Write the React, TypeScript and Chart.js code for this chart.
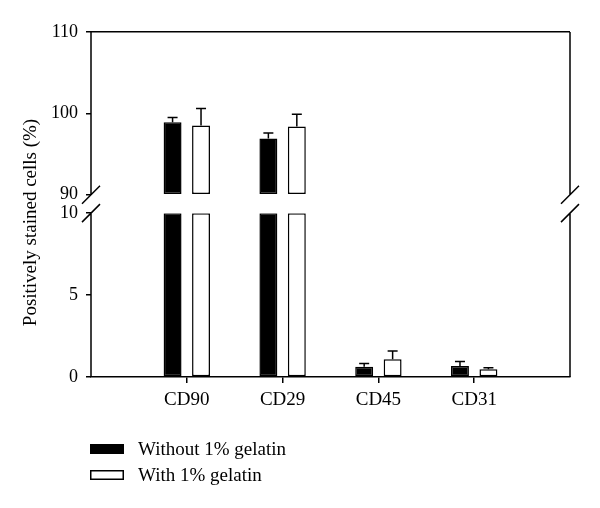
import React, { useEffect, useRef } from 'react';
import { Chart, registerables } from 'chart.js';

Chart.register(...registerables);

// ---- data ----
const categories = ['', 'CD90', 'CD29', 'CD45', 'CD31', ''];
const seriesLabels = ['Without 1% gelatin', 'With 1% gelatin'];
const withoutGelatin: (number | null)[] = [null, 98.9, 96.9, 0.63, 0.67, null];
const withoutGelatinErr: (number | null)[] = [null, 0.6, 0.7, 0.2, 0.27, null];
const withGelatin: (number | null)[] = [null, 98.5, 98.4, 1.08, 0.47, null];
const withGelatinErr: (number | null)[] = [null, 2.1, 1.5, 0.5, 0.1, null];
const upperTicks = [90, 100, 110];
const lowerTicks = [0, 5, 10];
const yTitle = 'Positively stained cells (%)';

const FONT = "'Liberation Serif', 'Times New Roman', serif";

const upperMin = upperTicks[0];
const upperMax = upperTicks[upperTicks.length - 1];
const lowerMin = lowerTicks[0];
const lowerMax = lowerTicks[lowerTicks.length - 1];

const toUpper = (arr: (number | null)[]) => arr.map((v) => (v == null || v < upperMin ? null : v));
const toLower = (arr: (number | null)[]) => arr.map((v) => (v == null ? null : Math.min(v, lowerMax)));

const fills = ['#000000', '#ffffff'];

const brokenAxisPlugin = {
  id: 'brokenAxis',
  afterDraw(chart: any) {
    const { ctx, chartArea } = chart;
    const hi = chart.scales.yHigh;
    const lo = chart.scales.yLow;
    ctx.save();
    ctx.strokeStyle = '#000';
    ctx.lineWidth = 1.5;
    const xs = [chartArea.left, chartArea.right];
    const hiTop = hi.getPixelForValue(upperMax);
    const hiBot = hi.getPixelForValue(upperMin);
    const loTop = lo.getPixelForValue(lowerMax);
    const loBot = lo.getPixelForValue(lowerMin);
    ctx.beginPath();
    for (const x of xs) {
      ctx.moveTo(x, hiTop);
      ctx.lineTo(x, hiBot);
      ctx.moveTo(x, loTop);
      ctx.lineTo(x, loBot);
      for (const y of [hiBot, loTop]) {
        ctx.moveTo(x - 9, y + 9);
        ctx.lineTo(x + 9, y - 9);
      }
    }
    ctx.stroke();

    // y title
    ctx.fillStyle = '#000';
    ctx.font = `19px ${FONT}`;
    ctx.textAlign = 'center';
    ctx.textBaseline = 'middle';
    ctx.translate(chartArea.left - 60, (hiTop + loBot) / 2 + 18);
    ctx.rotate(-Math.PI / 2);
    ctx.fillText(yTitle, 0, 0);
    ctx.restore();

    // legend
    ctx.save();
    ctx.font = `19px ${FONT}`;
    ctx.textAlign = 'left';
    ctx.textBaseline = 'alphabetic';
    ctx.lineWidth = 1.5;
    seriesLabels.forEach((label, i) => {
      const boxX = chartArea.left - 1;
      const boxY = loBot + 67 + i * 26;
      ctx.fillStyle = fills[i];
      ctx.fillRect(boxX, boxY, 34, 10);
      ctx.strokeStyle = '#000';
      ctx.strokeRect(boxX + 0.75, boxY + 0.75, 32.5, 8.5);
      ctx.fillStyle = '#000';
      ctx.fillText(label, boxX + 48, boxY + 11);
    });
    ctx.restore();
  },
};

const errorBarPlugin = {
  id: 'errorBars',
  afterDatasetsDraw(chart: any) {
    const { ctx } = chart;
    ctx.save();
    ctx.strokeStyle = '#000';
    ctx.lineWidth = 1.5;
    chart.data.datasets.forEach((ds: any, di: number) => {
      const meta = chart.getDatasetMeta(di);
      const yScale = chart.scales[ds.yAxisID];
      ds.raw.forEach((raw: number | null, i: number) => {
        const err = ds.errors[i];
        if (raw == null || err == null) return;
        if (raw < yScale.min || raw > yScale.max) return;
        const bar = meta.data[i];
        if (!bar) return;
        const x = bar.x;
        const y0 = yScale.getPixelForValue(raw);
        const y1 = yScale.getPixelForValue(raw + err);
        ctx.beginPath();
        ctx.moveTo(x, y0);
        ctx.lineTo(x, y1);
        ctx.moveTo(x - 5, y1);
        ctx.lineTo(x + 5, y1);
        ctx.stroke();
      });
    });
    ctx.restore();
  },
};

export default function App() {
  const canvasRef = useRef<HTMLCanvasElement | null>(null);

  useEffect(() => {
    if (!canvasRef.current) return;
    Chart.defaults.font.family = FONT;
    Chart.defaults.color = '#000';

    const raws = [withoutGelatin, withGelatin];
    const errs = [withoutGelatinErr, withGelatinErr];
    const common = {
      borderColor: '#000',
      borderWidth: 1.5,
      borderSkipped: false,
      categoryPercentage: 0.594,
      barPercentage: 0.63,
    };
    const datasets: any[] = [];
    [0, 1].forEach((s) => {
      datasets.push({
        ...common,
        label: seriesLabels[s],
        data: toLower(raws[s]),
        raw: raws[s],
        errors: errs[s],
        backgroundColor: fills[s],
        yAxisID: 'yLow',
        stack: 's' + s,
      });
    });
    [0, 1].forEach((s) => {
      datasets.push({
        ...common,
        label: seriesLabels[s],
        data: toUpper(raws[s]),
        raw: raws[s],
        errors: errs[s],
        backgroundColor: fills[s],
        yAxisID: 'yHigh',
        stack: 's' + s,
        base: upperMin,
      });
    });

    const yCommon = {
      position: 'left',
      stack: 'y',
      stacked: false,
      border: { display: false },
      afterFit: (scale: any) => {
        scale.width = 83;
      },
    };

    const chart = new Chart(canvasRef.current, {
      type: 'bar',
      data: { labels: categories, datasets },
      options: {
        animation: false,
        responsive: false,
        layout: { padding: { top: 24, right: 22, bottom: 83, left: 0 } },
        plugins: { legend: { display: false }, tooltip: { enabled: false } },
        scales: {
          x: {
            offset: false,
            border: { display: true, color: '#000', width: 1.5 },
            grid: {
              offset: false,
              drawOnChartArea: false,
              tickLength: 6,
              lineWidth: 1.5,
              tickColor: (c: any) => (categories[c.index] ? '#000' : 'rgba(0,0,0,0)'),
            },
            ticks: { font: { size: 19 }, padding: 6, color: '#000', autoSkip: false, maxRotation: 0 },
            afterFit: (scale: any) => {
              scale.height = 40;
            },
          },
          yHigh: {
            ...yCommon,
            weight: 3,
            stackWeight: 1,
            min: upperMin,
            max: upperMax,
            afterBuildTicks: (scale: any) => {
              scale.ticks = upperTicks.map((value) => ({ value }));
            },
            grid: {
              drawOnChartArea: true,
              tickLength: 5,
              lineWidth: 1.5,
              color: (c: any) => (c.tick && c.tick.value === upperMax ? '#000' : 'rgba(0,0,0,0)'),
              tickColor: '#000',
            },
            ticks: { font: { size: 18 }, padding: 8, color: '#000' },
          },
          yGap: {
            ...yCommon,
            display: false,
            weight: 2,
            stackWeight: 0.113,
            min: 0,
            max: 1,
          },
          yLow: {
            ...yCommon,
            weight: 1,
            stackWeight: 1.007,
            min: lowerMin,
            max: lowerMax,
            afterBuildTicks: (scale: any) => {
              scale.ticks = lowerTicks.map((value) => ({ value }));
            },
            grid: {
              drawOnChartArea: false,
              tickLength: 5,
              lineWidth: 1.5,
              tickColor: '#000',
            },
            ticks: { font: { size: 18 }, padding: 8, color: '#000' },
          },
        },
      } as any,
      plugins: [brokenAxisPlugin, errorBarPlugin],
    });
    return () => chart.destroy();
  }, []);

  return <canvas ref={canvasRef} width={584} height={492} />;
}
